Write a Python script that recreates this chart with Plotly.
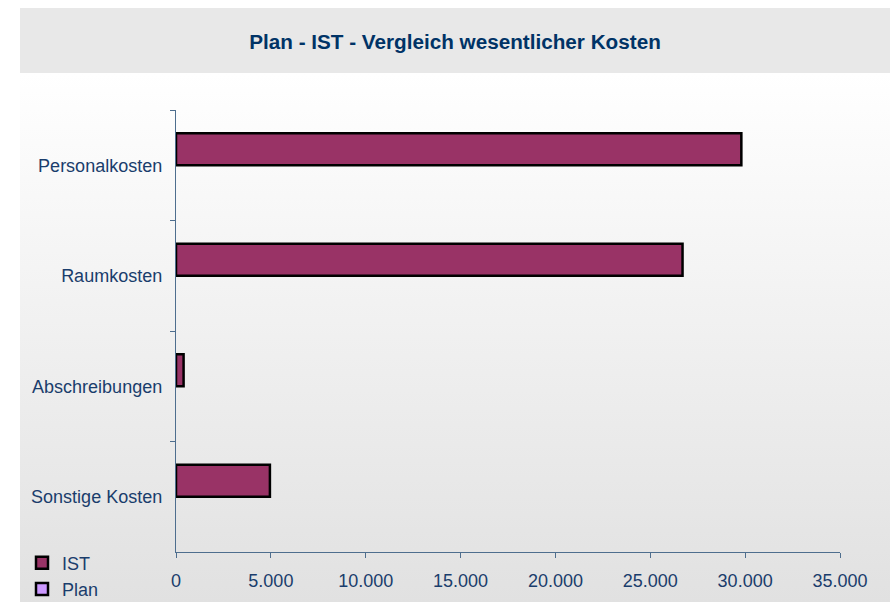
import base64
import plotly.graph_objects as go

# Daten
kategorien = ["Personalkosten", "Raumkosten", "Abschreibungen", "Sonstige Kosten"]
ist_werte = [29800, 26700, 400, 4950]
plan_werte = [0, 0, 0, 0]
x_ticks = [0, 5000, 10000, 15000, 20000, 25000, 30000, 35000]

# Layout in Pixeln
W, H = 890, 602
L, R, T, B = 176, 50, 110, 50
pw, ph = W - L - R, H - T - B

def px_x(px):
    return (px - L) / pw

def px_y(py):
    return (H - B - py) / ph

# Farbverlauf als SVG fuer den Hintergrund
svg = ("<svg xmlns='http://www.w3.org/2000/svg' width='10' height='100' preserveAspectRatio='none'>"
       "<defs><linearGradient id='g' x1='0' y1='0' x2='0' y2='1'>"
       "<stop offset='0' stop-color='#ffffff'/><stop offset='1' stop-color='#e1e1e1'/>"
       "</linearGradient></defs><rect width='10' height='100' fill='url(#g)'/></svg>")
bg_src = "data:image/svg+xml;base64," + base64.b64encode(svg.encode()).decode()

text_col = "#1a3d6c"
axis_col = "#4e6e8e"
font = dict(family="Liberation Sans, Arial, sans-serif", size=18, color=text_col)

fig = go.Figure()
fig.add_trace(go.Bar(
    y=kategorien, x=ist_werte, name="IST", orientation="h",
    marker=dict(color="#993366", line=dict(color="black", width=2.5)),
))
# Nullwerte nicht als Strich zeichnen
fig.add_trace(go.Bar(
    y=kategorien, x=[v if v else None for v in plan_werte], name="Plan", orientation="h",
    marker=dict(color="#cc99ff", line=dict(color="black", width=2.5)),
))

fig.update_layout(
    width=W, height=H,
    margin=dict(l=L, r=R, t=T, b=B, autoexpand=False),
    paper_bgcolor="white",
    plot_bgcolor="rgba(0,0,0,0)",
    font=font,
    separators=",.",
    barmode="group",
    bargap=0.42,
    bargroupgap=0,
    title=dict(
        text="<b>Plan - IST - Vergleich wesentlicher Kosten</b>",
        x=455 / W, xref="container", xanchor="center",
        y=1 - 42 / H, yref="container", yanchor="middle",
        font=dict(family="Liberation Sans, Arial, sans-serif", size=20.7, color="#003366"),
    ),
    legend=dict(
        x=px_x(22), xref="paper", xanchor="left",
        y=px_y(576), yref="paper", yanchor="middle",
        bgcolor="rgba(0,0,0,0)", tracegroupgap=0,
        font=font,
    ),
    images=[dict(
        source=bg_src, xref="paper", yref="paper",
        x=px_x(20), y=px_y(73), sizex=px_x(W) - px_x(20), sizey=px_y(73) - px_y(H),
        xanchor="left", yanchor="top", sizing="stretch", layer="below",
    )],
    shapes=[dict(
        type="rect", xref="paper", yref="paper", layer="below",
        x0=px_x(20), x1=px_x(W), y0=px_y(73), y1=px_y(8),
        fillcolor="#e8e8e8", line=dict(width=0),
    )],
)

fig.update_xaxes(
    range=[0, 35000], tickvals=x_ticks, tickformat=",d",
    showgrid=False, zeroline=False, automargin=False,
    showline=True, linecolor=axis_col, linewidth=1.4,
    ticks="outside", ticklen=5, tickcolor=axis_col, tickwidth=1.4,
    ticklabelstandoff=7, tickfont=font,
)
fig.update_yaxes(
    autorange="reversed", showgrid=False, zeroline=False, automargin=False,
    showline=True, linecolor=axis_col, linewidth=1.4,
    ticks="outside", ticklen=5, tickcolor=axis_col, tickwidth=1.4,
    tickson="boundaries", ticklabelstandoff=9,
    tickfont=font,
)

fig.write_html("out.html", config={"displayModeBar": False},
               post_script="document.body.style.margin='0';")
